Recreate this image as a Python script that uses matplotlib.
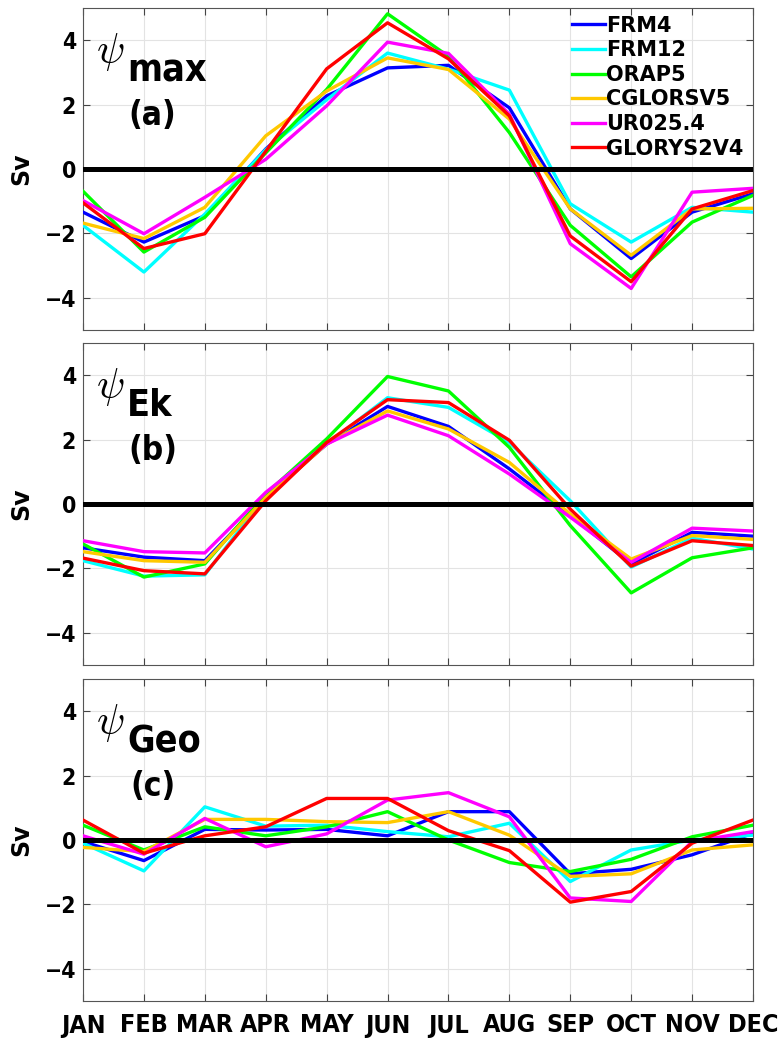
import numpy as np
import matplotlib
matplotlib.use("Agg")
import matplotlib.pyplot as plt
from matplotlib import font_manager

months = ["JAN", "FEB", "MAR", "APR", "MAY", "JUN", "JUL", "AUG", "SEP", "OCT", "NOV", "DEC"]
products = ["FRM4", "FRM12", "ORAP5", "CGLORSV5", "UR025.4", "GLORYS2V4"]
colors = ["#0000ff", "#00ffff", "#00ff00", "#ffc800", "#ff00ff", "#ff0000"]

# (a) psi_max
max_frm4 = [-1.34, -2.27, -1.45, 0.62, 2.27, 3.14, 3.22, 1.90, -1.24, -2.78, -1.34, -0.77]
max_frm12 = [-1.75, -3.20, -1.40, 0.60, 2.15, 3.60, 3.10, 2.45, -1.08, -2.27, -1.19, -1.34]
max_orap5 = [-0.69, -2.58, -1.50, 0.50, 2.47, 4.82, 3.50, 1.13, -1.75, -3.35, -1.65, -0.82]
max_cglo = [-1.68, -2.16, -1.19, 1.03, 2.42, 3.45, 3.09, 1.55, -1.24, -2.68, -1.24, -1.22]
max_ur025 = [-0.98, -2.01, -0.88, 0.30, 1.96, 3.94, 3.59, 1.70, -2.32, -3.71, -0.72, -0.60]
max_glorys = [-1.05, -2.47, -2.01, 0.55, 3.11, 4.54, 3.42, 1.65, -2.08, -3.50, -1.24, -0.67]

# (b) psi_Ek
ek_frm4 = [-1.36, -1.65, -1.76, 0.20, 1.86, 3.03, 2.41, 1.09, -0.36, -1.86, -0.88, -1.00]
ek_frm12 = [-1.76, -2.24, -2.20, 0.26, 1.86, 3.30, 3.00, 1.91, 0.10, -1.96, -1.06, -1.40]
ek_orap5 = [-1.24, -2.27, -1.86, 0.31, 2.02, 3.96, 3.51, 1.76, -0.67, -2.76, -1.67, -1.36]
ek_cglo = [-1.48, -1.76, -1.81, 0.20, 1.86, 2.89, 2.33, 1.29, -0.31, -1.71, -0.98, -1.10]
ek_ur025 = [-1.14, -1.48, -1.52, 0.36, 1.86, 2.76, 2.12, 0.93, -0.41, -1.81, -0.75, -0.84]
ek_glorys = [-1.68, -2.07, -2.17, 0.10, 1.91, 3.24, 3.15, 1.98, -0.16, -1.93, -1.14, -1.29]

# (c) psi_Geo
geo_frm4 = [-0.05, -0.64, 0.33, 0.31, 0.33, 0.13, 0.88, 0.88, -1.05, -0.91, -0.46, 0.21]
geo_frm12 = [-0.10, -0.96, 1.03, 0.43, 0.46, 0.26, 0.10, 0.52, -1.29, -0.31, 0.00, 0.15]
geo_orap5 = [0.46, -0.31, 0.41, 0.13, 0.41, 0.88, 0.00, -0.70, -0.98, -0.60, 0.10, 0.46]
geo_cglo = [-0.23, -0.36, 0.64, 0.64, 0.57, 0.54, 0.88, 0.15, -1.13, -1.05, -0.31, -0.15]
geo_ur025 = [0.13, -0.44, 0.67, -0.21, 0.19, 1.24, 1.47, 0.72, -1.80, -1.91, -0.05, 0.26]
geo_glorys = [0.62, -0.41, 0.13, 0.41, 1.29, 1.29, 0.29, -0.33, -1.93, -1.60, -0.10, 0.62]

yticks = [-4, -2, 0, 2, 4]
ytick_labels = ["\u22124", "\u22122", "0", "2", "4"]

panels = [
    ("max", "(a)", [max_frm4, max_frm12, max_orap5, max_cglo, max_ur025, max_glorys]),
    ("Ek", "(b)", [ek_frm4, ek_frm12, ek_orap5, ek_cglo, ek_ur025, ek_glorys]),
    ("Geo", "(c)", [geo_frm4, geo_frm12, geo_orap5, geo_cglo, geo_ur025, geo_glorys]),
]


def pick_condensed():
    # look for any bold narrow / condensed face on the system
    best = None
    for f in font_manager.fontManager.ttflist:
        narrow = ("Narrow" in f.name or "Condensed" in f.name
                  or f.stretch in ("condensed", "semi-condensed", "extra-condensed"))
        if not narrow or "Italic" in f.fname or f.style != "normal":
            continue
        w = f.weight if isinstance(f.weight, int) else 700 if "bold" in str(f.weight) else 400
        score = abs(w - 700)
        if best is None or score < best[0]:
            best = (score, f.fname)
    return best[1] if best else None


cond = pick_condensed()
plt.rcParams["mathtext.fontset"] = "cm"
plt.rcParams["font.family"] = "DejaVu Sans"
if cond:
    xt_font = font_manager.FontProperties(fname=cond, size=18)
    yt_font = font_manager.FontProperties(fname=cond, size=16.5)
    big_font = font_manager.FontProperties(fname=cond, size=27)
    tag_font = font_manager.FontProperties(fname=cond, size=24)
else:
    xt_font = font_manager.FontProperties(family="DejaVu Sans", weight="bold", size=14)
    yt_font = font_manager.FontProperties(family="DejaVu Sans", weight="bold", size=15)
    big_font = font_manager.FontProperties(family="DejaVu Sans", weight="bold", size=24)
    tag_font = font_manager.FontProperties(family="DejaVu Sans", weight="bold", size=21)

fig = plt.figure(figsize=(7.79, 10.39), dpi=100)
W, H = 779, 1039
tops = [8, 343, 679]
x = np.arange(len(months))

for k, (sub, tag, series) in enumerate(panels):
    top = tops[k]
    ax = fig.add_axes([83 / W, 1 - (top + 322) / H, 670 / W, 322 / H])
    for vals, name, c in zip(series, products, colors):
        ax.plot(x, vals, color=c, lw=2.4, label=name, zorder=3)
    ax.axhline(0, color="k", lw=3.6, zorder=4)
    ax.set_xlim(0, 11)
    ax.set_ylim(-5, 5)
    ax.set_yticks(yticks)
    ax.set_yticklabels(ytick_labels, fontproperties=yt_font)
    ax.set_xticks(x)
    ax.grid(True, color="#e3e3e3", lw=0.8)
    ax.set_axisbelow(True)
    ax.tick_params(direction="in", length=5, width=0.8, color="#444444",
                   top=True, right=True)
    ax.tick_params(axis="y", pad=5)
    for s in ax.spines.values():
        s.set_color("#555555")
        s.set_linewidth(0.8)
    if k < 2:
        ax.set_xticklabels([])
    else:
        ax.set_xticklabels(months, fontproperties=xt_font)
        ax.tick_params(axis="x", pad=9)
    ax.set_ylabel("Sv", fontsize=17, fontweight="bold", labelpad=8)

    ax.text(0.040, 0.862, r"$\psi$", transform=ax.transAxes, fontsize=30,
            ha="center", va="center")
    ax.text(0.066, 0.772, sub, transform=ax.transAxes, fontproperties=big_font,
            ha="left", va="baseline")
    ax.text(0.104, 0.665, tag, transform=ax.transAxes, fontproperties=tag_font,
            ha="center", va="center")
    if k == 0:
        ax.legend(loc="upper right", bbox_to_anchor=(1.005, 1.015), frameon=False,
                  prop={"weight": "bold", "size": 15}, handlelength=1.6,
                  handletextpad=0.05, labelspacing=0.22, borderaxespad=0.2)

fig.savefig("out.png", dpi=100)
